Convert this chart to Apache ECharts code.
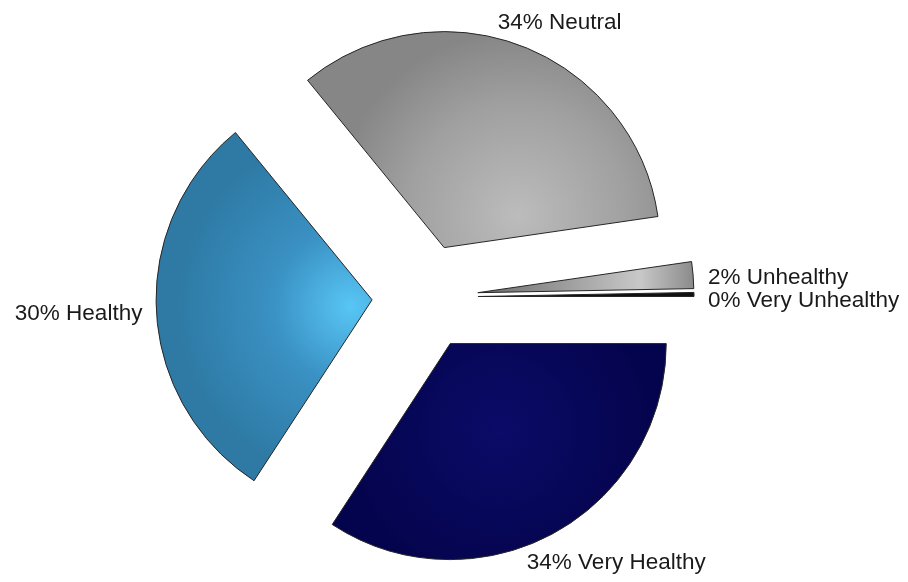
<!DOCTYPE html>
<html>
<head>
<meta charset="utf-8">
<script src="https://cdn.jsdelivr.net/npm/echarts@6/dist/echarts.min.js"></script>
<style>
  html, body { margin: 0; padding: 0; background: #ffffff; }
  #chart { width: 908px; height: 582px; }
</style>
</head>
<body>
<div id="chart"></div>
<script>
// Share of respondents per health rating, in drawing order (clockwise from 3 o'clock)
const categories = ['Very Healthy', 'Healthy', 'Neutral', 'Unhealthy', 'Very Unhealthy'];
const shares = [34.2, 29.9, 33.6, 2.0, 0.3];

// Shaded fills for the slices
const sliceFills = [
  { type: 'radial', x: 0.5, y: 0.4, r: 0.7, colorStops: [
    { offset: 0, color: '#0b0b68' }, { offset: 1, color: '#04044e' }] },
  { type: 'radial', x: 0.9, y: 0.5, r: 0.8, colorStops: [
    { offset: 0, color: '#58c6f5' }, { offset: 0.45, color: '#3a91c3' }, { offset: 1, color: '#2e7aa5' }] },
  { type: 'radial', x: 0.6, y: 0.85, r: 0.85, colorStops: [
    { offset: 0, color: '#bcbcbc' }, { offset: 0.6, color: '#a0a0a0' }, { offset: 1, color: '#868686' }] },
  { type: 'linear', x: 0, y: 0, x2: 1, y2: 0, colorStops: [
    { offset: 0, color: '#6a6a6a' }, { offset: 0.75, color: '#c8c8c8' }, { offset: 1, color: '#8a8a8a' }] },
  '#111111'
];

// Small nudges for the outside labels
const labelNudge = [
  [-37, 19],
  [3, 2],
  [-34, -12],
  [-2, 4],
  [-3, 6]
];

const chart = echarts.init(document.getElementById('chart'), null, { renderer: 'canvas' });

const data = categories.map((name, i) => ({
  name: name,
  value: shares[i],
  selected: true,
  itemStyle: { color: sliceFills[i] }
}));

chart.setOption({
  backgroundColor: '#ffffff',
  animation: false,
  series: [{
    type: 'pie',
    center: [425, 297],
    radius: 216,
    startAngle: 0,
    clockwise: true,
    minAngle: 0,
    avoidLabelOverlap: false,
    selectedMode: 'multiple',
    selectedOffset: 53,
    data: data,
    itemStyle: {
      borderColor: '#262626',
      borderWidth: 1
    },
    select: {
      itemStyle: { borderColor: '#262626', borderWidth: 1 }
    },
    emphasis: { disabled: true },
    label: {
      show: true,
      position: 'outside',
      fontFamily: '"Liberation Sans", Arial, sans-serif',
      fontSize: 22.5,
      color: '#1a1a1a',
      formatter: p => Math.round(p.percent) + '% ' + p.name
    },
    labelLine: { show: false, length: 12, length2: 0 },
    labelLayout: p => ({ dx: labelNudge[p.dataIndex][0], dy: labelNudge[p.dataIndex][1] })
  }]
});
</script>
</body>
</html>
